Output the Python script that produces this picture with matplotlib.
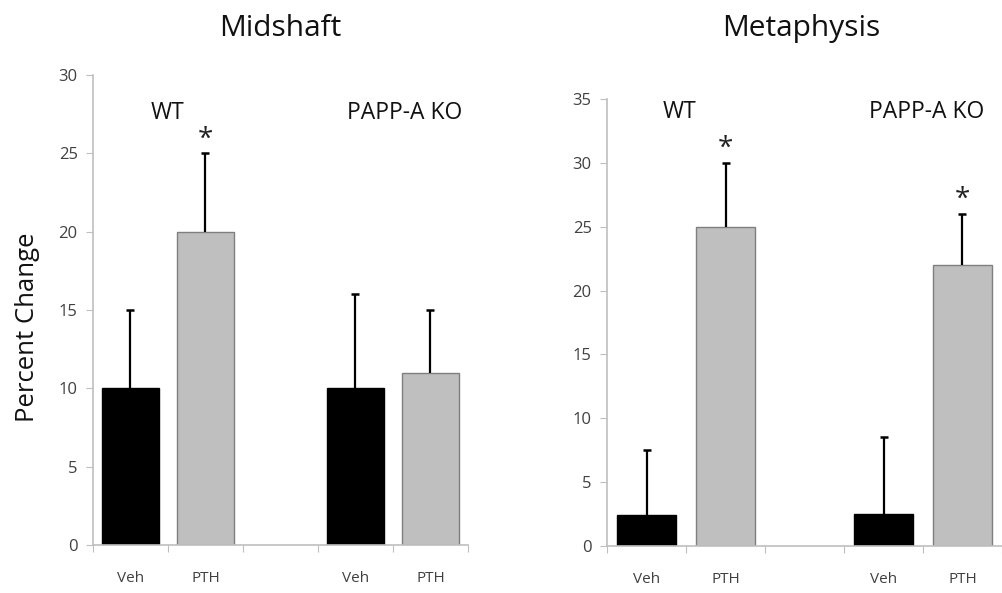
import matplotlib.pyplot as plt
import numpy as np

plt.rcParams['font.family'] = ['Open Sans', 'DejaVu Sans']

# categories (blank slot separates the two genotypes)
categories = ['Veh', 'PTH', '', 'Veh', 'PTH']
bar_slots = [0, 1, 3, 4]
bar_colors = ['black', '#bfbfbf', 'black', '#bfbfbf']
edge_colors = ['black', '#7f7f7f', 'black', '#7f7f7f']

# Midshaft: WT Veh, WT PTH, KO Veh, KO PTH
midshaft_vals = [10, 20, 10, 11]
midshaft_err = [5, 5, 6, 4]
midshaft_sig = [False, True, False, False]

# Metaphysis
metaphysis_vals = [2.4, 25, 2.5, 22]
metaphysis_err = [5.1, 5, 6, 4]
metaphysis_sig = [False, True, False, True]

group_labels = ['WT', 'PAPP-A KO']

fig = plt.figure(figsize=(10.03, 5.93), dpi=100)
ax1 = fig.add_axes([0.0927, 0.0809, 0.3739, 0.7926])
ax2 = fig.add_axes([0.6052, 0.0793, 0.3938, 0.7537])


def draw_panel(ax, vals, errs, sig, ymax):
    x = np.array(bar_slots)
    vals = np.array(vals)
    errs = np.array(errs)
    ax.bar(x, vals, width=0.75, color=bar_colors, edgecolor=edge_colors,
           linewidth=1.0, zorder=2)
    # upper-only error bars
    ax.vlines(x, vals, vals + errs, color='black', linewidth=1.6, zorder=3)
    ax.plot(x, vals + errs, linestyle='none', marker='_', markersize=6,
            markeredgewidth=1.8, color='black', zorder=3)
    for xi, v, e, s in zip(x, vals, errs, sig):
        if s:
            ax.annotate('*', (xi, v + e), xytext=(0, 0), textcoords='offset points',
                        ha='center', va='bottom', fontsize=20, color='#222222')
    ax.set_xlim(-0.5, 4.5)
    ax.set_ylim(0, ymax)
    ax.set_yticks(np.arange(0, ymax + 1, 5))
    ax.set_xticks(np.arange(-0.5, 5, 1))
    ax.set_xticklabels([])
    ax.set_xticks(np.arange(5), minor=True)
    ax.set_xticklabels(categories, minor=True)
    ax.tick_params(axis='x', which='minor', length=0, pad=19, labelsize=11,
                   labelcolor='#404040')
    ax.tick_params(axis='x', which='major', length=5, color='#bfbfbf', direction='out')
    ax.tick_params(axis='y', length=5, color='#bfbfbf', labelsize=12,
                   labelcolor='#404040', pad=6)
    for side in ['top', 'right']:
        ax.spines[side].set_visible(False)
    for side in ['left', 'bottom']:
        ax.spines[side].set_color('#bfbfbf')
        ax.spines[side].set_linewidth(1.2)


draw_panel(ax1, midshaft_vals, midshaft_err, midshaft_sig, 30)
draw_panel(ax2, metaphysis_vals, metaphysis_err, metaphysis_sig, 35)

fig.text(280 / 1003, 1 - 36 / 593, 'Midshaft', ha='center', va='baseline',
         fontsize=21.5, color='#111111')
fig.text(801 / 1003, 1 - 36 / 593, 'Metaphysis', ha='center', va='baseline',
         fontsize=21.5, color='#111111')

ax1.set_ylabel('Percent Change', fontsize=18.5, color='#111111')
ax1.yaxis.set_label_coords(-0.14, 0.464)

ax1.text(0.49, 27.6, group_labels[0], ha='center', va='center', fontsize=16.5, color='#111111')
ax1.text(3.66, 27.6, group_labels[1], ha='center', va='center', fontsize=16.5, color='#111111')
ax2.text(0.42, 34.0, group_labels[0], ha='center', va='center', fontsize=16.5, color='#111111')
ax2.text(3.55, 34.0, group_labels[1], ha='center', va='center', fontsize=16.5, color='#111111')

fig.savefig('out.png', dpi=100)
